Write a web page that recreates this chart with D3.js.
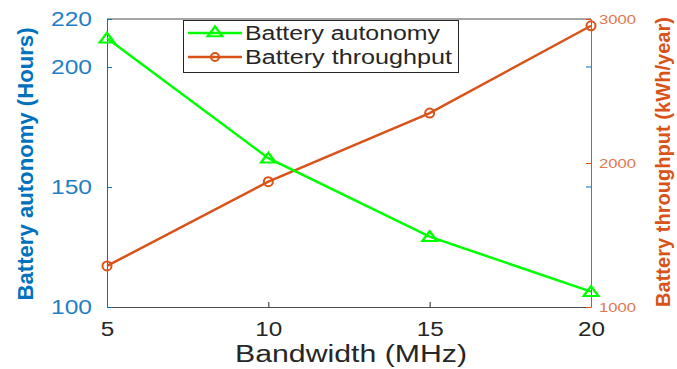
<!DOCTYPE html>
<html>
<head>
<meta charset="utf-8">
<script src="https://cdn.jsdelivr.net/npm/d3@7"></script>
<style>
  html, body { margin: 0; padding: 0; background: #fff; }
  svg { display: block; }
  text { font-family: "Liberation Sans", Arial, Helvetica, sans-serif; }
</style>
</head>
<body>
<svg id="chart" width="677" height="369"></svg>
<script>
// Bandwidth sweep and the two battery metrics
const bandwidth = [5, 10, 15, 20];
const autonomy = [212, 162, 129.3, 106.4];          // hours
const throughput = [1285, 1870, 2347, 2953];         // kWh/year

const xTicks = [5, 10, 15, 20];
const yLeftTicks = [100, 150, 200, 220];
const yRightTicks = [1000, 2000, 3000];

const seriesNames = ["Battery autonomy", "Battery throughput"];
const xLabel = "Bandwidth (MHz)";
const yLeftLabel = "Battery autonomy (Hours)";
const yRightLabel = "Battery throughput (kWh/year)";

const BLUE = "#0072BD", ORANGE = "#D95319", GREEN = "#00FF00", DARK = "#262626";

const plot = { left: 107, right: 591, top: 19, bottom: 307 };

const svg = d3.select("#chart");

const x = d3.scaleLinear().domain([5, 20]).range([plot.left, plot.right]);
const yL = d3.scaleLinear().domain([100, 220]).range([plot.bottom, plot.top]);
const yR = d3.scaleLinear().domain([1000, 3000]).range([plot.bottom, plot.top]);

// stretch helper: fixes rendered width of a text element
function fitWidth(sel, w) {
  sel.attr("textLength", w).attr("lengthAdjust", "spacingAndGlyphs");
}

// top box edge
svg.append("line")
  .attr("x1", plot.left).attr("x2", plot.right)
  .attr("y1", plot.top).attr("y2", plot.top)
  .attr("stroke", "#4d4d4d").attr("stroke-width", 1);

// bottom axis
const gx = svg.append("g")
  .attr("transform", `translate(0,${plot.bottom})`)
  .call(d3.axisBottom(x).tickValues(xTicks).tickFormat(d3.format("d"))
    .tickSizeInner(-5).tickSizeOuter(0).tickPadding(15));
gx.select(".domain").attr("stroke", "#4d4d4d");
gx.selectAll(".tick line").attr("stroke", DARK);
gx.selectAll(".tick text")
  .attr("fill", DARK).attr("font-size", 20)
  .each(function(d) { fitWidth(d3.select(this), String(d).length * 13.5); });

// left axis
const gl = svg.append("g")
  .attr("transform", `translate(${plot.left},0)`)
  .call(d3.axisLeft(yL).tickValues(yLeftTicks).tickFormat(d3.format("d"))
    .tickSizeInner(-5).tickSizeOuter(0).tickPadding(15));
gl.select(".domain").attr("stroke", BLUE);
gl.selectAll(".tick line").attr("stroke", BLUE);
gl.selectAll(".tick text")
  .attr("fill", "#1f7fc4").attr("font-size", 20)
  .each(function() { fitWidth(d3.select(this), 41); });

// right axis
const gr = svg.append("g")
  .attr("transform", `translate(${plot.right},0)`)
  .call(d3.axisRight(yR).tickValues(yRightTicks).tickFormat(d3.format("d"))
    .tickSizeInner(-5).tickSizeOuter(0).tickPadding(8));
gr.select(".domain").attr("stroke", ORANGE);
gr.selectAll(".tick line").attr("stroke", ORANGE);
gr.selectAll(".tick text")
  .attr("fill", "#e2774c").attr("font-size", 13)
  .each(function() { fitWidth(d3.select(this), 37); });

// left-axis ticks repeated on the right edge
svg.append("g").selectAll("line")
  .data([150, 200])
  .join("line")
  .attr("x1", plot.right - 5).attr("x2", plot.right)
  .attr("y1", d => yL(d)).attr("y2", d => yL(d))
  .attr("stroke", BLUE);

// axis titles
svg.append("text")
  .attr("x", (plot.left + plot.right) / 2 + 2).attr("y", 362)
  .attr("text-anchor", "middle").attr("font-size", 23).attr("fill", DARK)
  .text(xLabel)
  .call(fitWidth, 232);

svg.append("text")
  .attr("transform", `translate(33,${(plot.top + plot.bottom) / 2 + 1}) rotate(-90)`)
  .attr("text-anchor", "middle").attr("font-size", 22).attr("font-weight", "bold")
  .attr("fill", BLUE)
  .text(yLeftLabel)
  .call(fitWidth, 273);

svg.append("text")
  .attr("transform", `translate(670,${(plot.top + plot.bottom) / 2 - 1}) rotate(-90)`)
  .attr("text-anchor", "middle").attr("font-size", 21).attr("font-weight", "bold")
  .attr("fill", ORANGE)
  .text(yRightLabel)
  .call(fitWidth, 290);

// series
const lineL = d3.line().x((d, i) => x(bandwidth[i])).y(d => yL(d));
const lineR = d3.line().x((d, i) => x(bandwidth[i])).y(d => yR(d));

const tri = d3.symbol().type(d3.symbolTriangle).size(55);

svg.append("path").datum(throughput)
  .attr("d", lineR).attr("fill", "none")
  .attr("stroke", ORANGE).attr("stroke-width", 2.5);
svg.append("g").selectAll("circle")
  .data(throughput).join("circle")
  .attr("cx", (d, i) => x(bandwidth[i])).attr("cy", d => yR(d))
  .attr("r", 4.5).attr("fill", "none")
  .attr("stroke", ORANGE).attr("stroke-width", 2);

svg.append("path").datum(autonomy)
  .attr("d", lineL).attr("fill", "none")
  .attr("stroke", GREEN).attr("stroke-width", 2.5);
svg.append("g").selectAll("path")
  .data(autonomy).join("path")
  .attr("d", tri)
  .attr("transform", (d, i) => `translate(${x(bandwidth[i])},${yL(d) + 1}) scale(1.3,1)`)
  .attr("fill", "none").attr("stroke", GREEN).attr("stroke-width", 2);

// legend
const leg = svg.append("g");
leg.append("rect")
  .attr("x", 183.5).attr("y", 20.5).attr("width", 275).attr("height", 52)
  .attr("fill", "#fff").attr("stroke", DARK).attr("stroke-width", 1);

const legRows = [
  { name: seriesNames[0], color: GREEN, marker: "tri" },
  { name: seriesNames[1], color: ORANGE, marker: "circle" }
];
legRows.forEach((r, i) => {
  const cy = 33 + i * 24;
  leg.append("line")
    .attr("x1", 188).attr("x2", 242).attr("y1", cy).attr("y2", cy)
    .attr("stroke", r.color).attr("stroke-width", 2.5);
  if (r.marker === "tri") {
    leg.append("path").attr("d", tri)
      .attr("transform", `translate(215,${cy}) scale(1.3,1)`)
      .attr("fill", "none").attr("stroke", r.color).attr("stroke-width", 2);
  } else {
    leg.append("circle").attr("cx", 215).attr("cy", cy).attr("r", 4)
      .attr("fill", "none").attr("stroke", r.color).attr("stroke-width", 2);
  }
  leg.append("text")
    .attr("x", 245).attr("y", cy + 7)
    .attr("font-size", 20).attr("fill", DARK)
    .text(r.name)
    .call(fitWidth, i === 0 ? 195 : 207);
});
</script>
</body>
</html>
